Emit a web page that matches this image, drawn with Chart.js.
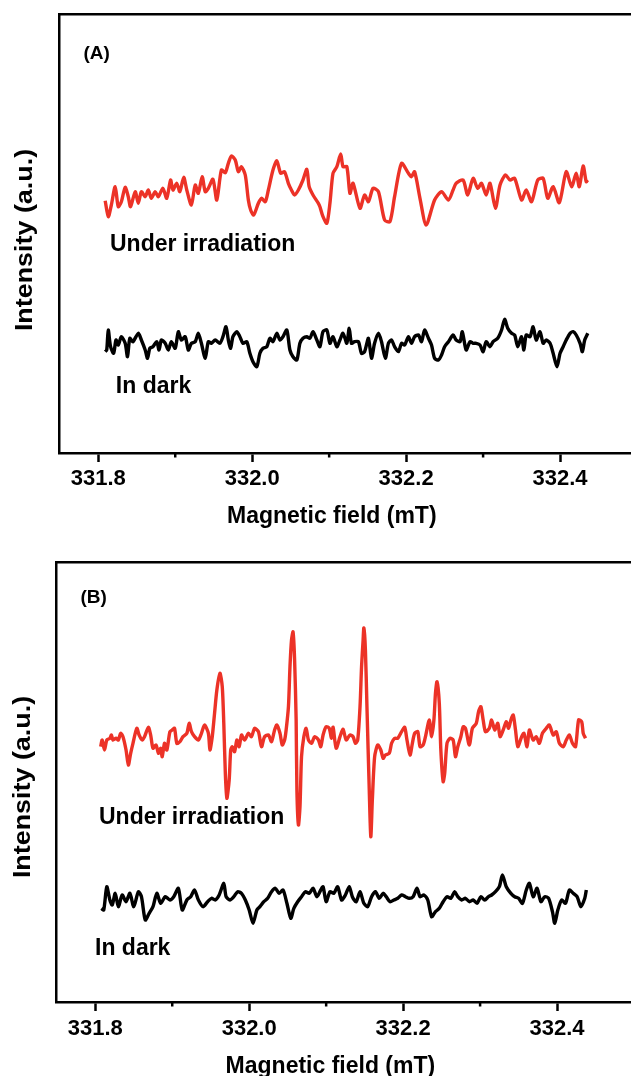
<!DOCTYPE html>
<html><head><meta charset="utf-8">
<script src="https://cdn.jsdelivr.net/npm/chart.js@4.4.1/dist/chart.umd.min.js"></script>
<style>
html,body{margin:0;padding:0;width:631px;height:1076px;overflow:hidden;background:#fff;}
#wrapA{position:absolute;left:0;top:0;width:740px;height:545px;}
#wrapB{position:absolute;left:-3px;top:545px;width:740px;height:531px;}
.lbl{position:absolute;font-family:'Liberation Sans',Arial,sans-serif;font-weight:bold;line-height:1;white-space:nowrap;color:#000;}
.ytitle{position:absolute;width:300px;height:24px;font-size:24px;text-align:center;transform-origin:50% 50%;transform:rotate(-90deg) scaleX(1.12);}
</style></head><body>
<div id="wrapA"><canvas id="cA" width="740" height="545"></canvas></div>
<div id="wrapB"><canvas id="cB" width="740" height="531"></canvas></div>
<div class="lbl" style="left:83.5px;top:43.2px;font-size:19px">(A)</div>
<div class="lbl" style="left:110px;top:232px;font-size:23px">Under irradiation</div>
<div class="lbl" style="left:115.8px;top:374px;font-size:23px">In dark</div>
<div class="lbl" style="left:227px;top:504.2px;font-size:23px">Magnetic field (mT)</div>
<div class="lbl ytitle" style="left:-126px;top:228px;">Intensity (a.u.)</div>
<div class="lbl" style="left:80.5px;top:587.2px;font-size:19px">(B)</div>
<div class="lbl" style="left:99px;top:804.5px;font-size:23px">Under irradiation</div>
<div class="lbl" style="left:95px;top:935.5px;font-size:23px">In dark</div>
<div class="lbl" style="left:225.6px;top:1053.7px;font-size:23px">Magnetic field (mT)</div>
<div class="lbl ytitle" style="left:-128px;top:775px;">Intensity (a.u.)</div>
<script>
// ---- data (field in mT, intensity in a.u.) ----
const xTickValues = [331.8, 332.0, 332.2, 332.4];
const xMinorTicks = [331.9, 332.1, 332.3, 332.5];

const fieldIrrA = [331.809,331.813,331.817,331.822,331.826,331.830,331.835,331.839,331.842,331.848,
331.852,331.856,331.861,331.865,331.869,331.874,331.878,331.884,331.889,331.894,
331.897,331.902,331.906,331.911,331.915,331.921,331.926,331.930,331.935,331.939,
331.943,331.949,331.954,331.960,331.965,331.969,331.973,331.978,331.982,331.986,
331.991,331.995,331.998,332.002,332.008,332.012,332.017,332.021,332.027,332.032,
332.037,332.042,332.047,332.051,332.055,332.060,332.066,332.071,332.074,332.079,
332.086,332.088,332.092,332.097,332.101,332.105,332.110,332.115,332.118,332.123,
332.127,332.131,332.140,332.146,332.151,332.157,332.164,332.172,332.179,332.185,
332.194,332.203,332.207,332.211,332.218,332.226,332.237,332.246,332.255,332.261,
332.265,332.274,332.280,332.287,332.293,332.298,332.304,332.309,332.316,332.322,
332.329,332.335,332.341,332.350,332.356,332.363,332.371,332.378,332.384,332.391,
332.399,332.408,332.415,332.421,332.425,332.430,332.434,332.436];
const irrA = [252.3,236.3,248,266.3,246.3,251.3,265.7,256.3,246.3,261.3,
249.7,261.3,256.3,263,254.7,261.3,256.3,264.7,254.7,273,
263,269.7,261.3,275.7,263,248,268,259.7,276.3,261.3,
264.7,273.7,253,283,280.3,289.7,297,293,281.3,286.3,
278,253,243,238,249.7,254.7,251.3,263,283,292.3,
279.7,281.3,269.7,263,258,263,273,283.7,266.3,258,
249.7,246.3,236.3,229.7,249.7,279.7,286.3,299,286.3,286.3,
259.7,269.7,244.7,258,251.3,264.7,261.3,233,231.3,256.3,
289.7,279.7,276.3,281.3,254.7,228,253,261.3,253,263,
269.7,273,258,274.7,264.7,269.7,258,269.7,244.7,268,
278,273,274.7,253,263,251.3,273,274.7,254.7,266.3,
250.3,281.3,266.3,279.7,266.3,287,271.3,273];

const fieldDarkA = [331.809,331.811,331.813,331.816,331.820,331.823,331.826,331.830,331.835,331.838,
331.841,331.845,331.852,331.856,331.861,331.864,331.867,331.871,331.876,331.879,
331.882,331.887,331.891,331.895,331.900,331.904,331.908,331.913,331.917,331.921,
331.926,331.930,331.934,331.939,331.943,331.947,331.952,331.958,331.962,331.966,
331.969,331.972,331.975,331.980,331.984,331.988,331.993,331.997,332.001,332.006,
332.010,332.014,332.019,332.023,332.027,332.032,332.036,332.040,332.045,332.049,
332.053,332.058,332.062,332.066,332.071,332.075,332.079,332.084,
332.088,332.092,332.097,332.101,332.105,332.110,332.114,332.118,332.123,332.126,
332.129,332.133,332.138,332.142,332.146,332.151,332.155,332.159,332.164,332.168,
332.173,332.177,332.181,332.185,332.190,332.194,332.198,332.203,332.207,332.211,
332.216,332.220,332.224,332.229,332.233,332.237,332.242,332.246,332.250,332.255,
332.261,332.265,332.270,332.273,332.278,332.283,332.287,332.291,332.296,332.300,
332.304,332.309,332.313,332.319,332.324,332.328,332.332,332.337,332.341,332.345,
332.350,332.353,332.356,332.361,332.365,332.369,332.374,332.378,332.382,332.387,
332.391,332.396,332.400,332.404,332.408,332.413,332.417,332.421,332.426,332.429,
332.432,332.436];
const darkA = [101.3,103,123,106.3,99.7,113,108,116.3,109.7,96.3,
114.7,111.3,119.7,113,103,94.7,104.7,106.3,111.3,103,
113,109.7,103,111.3,104.7,121.3,113,116.3,103,109.7,
111.3,119.7,109.7,94.7,111.3,109.7,113,109.7,116.3,126.3,
113,104.7,116.3,121.3,116.3,109.7,111.3,99.7,91.3,86.3,
99.7,104.7,106.3,114.7,111.3,119.7,113,116.3,123,103,
96.3,93,109.7,114.7,116.3,114.7,121.3,113,
106.3,121.3,123,109.7,116.3,106.3,113,119.7,109.7,124.7,
109.7,111.3,111.3,99.7,101.3,114.7,94.7,109.7,119.7,111.3,
94.7,109.7,113,106.3,101.3,109.7,108,116.3,109.7,116.3,
118,111.3,123,114.7,108,94.7,93,98,106.3,111.3,
118,113,111.3,121.3,103,111.3,109.7,109.7,108,101.3,
111.3,106.3,111.3,114.7,123,133.7,124.7,119.7,118,106.3,
116.3,103,118,116.3,126.3,113,121.3,109.7,113,109.7,
99.7,86.3,99.7,106.3,113,119.7,121.3,118,109.7,101.3,
113,119.7];

const fieldIrrB = [331.807,331.809,331.812,331.815,331.819,331.821,331.823,331.827,331.830,331.833,
331.836,331.840,331.843,331.846,331.849,331.854,331.857,331.861,331.864,331.869,
331.872,331.875,331.879,331.882,331.885,331.887,331.890,331.893,331.897,331.900,
331.903,331.906,331.910,331.914,331.919,331.922,331.925,331.929,331.934,331.938,
331.942,331.947,331.949,331.952,331.955,331.958,331.962,331.965,331.967,331.969,
331.971,331.974,331.976,331.978,331.981,331.984,331.987,331.990,331.994,331.999,
332.003,332.007,332.012,332.016,332.020,332.025,332.029,332.033,332.036,332.040,
332.043,332.046,332.048,332.051,332.053,332.055,332.057,332.059,332.061,332.062,
332.064,332.066,332.068,332.071,332.074,332.077,332.081,332.085,332.090,332.093,
332.096,332.100,332.104,332.107,332.109,332.113,332.118,332.122,332.126,332.131,
332.135,332.138,332.141,332.144,332.146,332.148,332.149,332.151,332.153,332.156,
332.158,332.160,332.163,332.167,332.171,332.174,332.177,332.182,332.185,332.189,
332.193,332.198,332.202,332.205,332.209,332.212,332.215,332.219,332.222,332.226,
332.229,332.234,332.237,332.240,332.242,332.244,332.247,332.249,332.252,332.254,
332.257,332.261,332.265,332.268,332.271,332.275,332.278,332.281,332.286,332.290,
332.295,332.298,332.301,332.304,332.307,332.312,332.315,332.319,332.323,332.326,
332.330,332.334,332.337,332.340,332.343,332.346,332.349,332.354,332.357,332.361,
332.364,332.369,332.373,332.377,332.381,332.386,332.390,332.395,332.399,332.403,
332.408,332.412,332.416,332.420,332.424,332.428,332.432,332.434,332.437];
const irrB = [255.3,262,252,262,263.7,267,262,263.7,262,268.7,
265.3,252,237,248.7,258.7,273.7,267,262,265.3,274.7,
267,253.7,257,248.7,253.7,245.3,258.7,252,270.3,272,
273.7,258.7,260.3,265.3,268.7,278.7,270.3,265.3,262,268.7,
277,268.7,252,265.3,288.7,312,328.7,315.3,278.7,228.7,
203.7,222,252,255.3,250.3,262,255.3,267,262,268.7,
265.3,273.7,270.3,255.3,265.3,267,260.3,272,277,268.7,
257,262,272,295.3,335.3,362,370,342,282,212,
177,195.3,245.3,265.3,273.7,262,258.7,265.3,262,255.3,
267,275.3,273.7,263.7,274.7,253.7,265.3,272.7,262,267,
265.3,258.7,262,295.3,335.3,362,374,352,295.3,212,
165.3,202,245.3,257,252,243.7,247,248.7,258.7,263.7,
263.7,270.3,274.7,262,247,258.7,268.7,270.3,255.3,257,
265.3,282,265.3,282,308.7,320.3,298.7,252,220.3,228.7,
258.7,263.7,262,245.3,255.3,265.3,275.3,273.7,257,273.7,
278.7,290.3,295.3,282,270.3,273.7,282,272,278.7,265.3,
272,280.3,273.7,282,287,272,255.3,265.3,268.7,255.3,
272,262,265.3,258.7,268.7,273.7,277,267,270.3,258.7,
255.3,262,267,258.7,255.3,282,280.3,268.7,263.7];

const fieldDarkB = [331.808,331.811,331.815,331.819,331.822,331.826,331.830,331.835,331.840,331.845,
331.850,331.856,331.860,331.865,331.870,331.875,331.880,331.885,331.891,331.897,
331.902,331.908,331.913,331.919,331.924,331.929,331.934,331.940,331.946,331.951,
331.956,331.961,331.967,331.970,331.975,331.980,331.985,331.990,331.995,332.000,
332.005,332.010,332.014,332.019,332.024,332.029,332.034,332.039,332.044,332.049,
332.054,332.058,332.063,332.068,332.073,332.078,332.083,332.088,332.093,332.096,
332.100,332.105,332.110,332.115,332.120,332.125,332.130,332.134,332.139,332.144,
332.149,332.154,332.159,332.164,332.169,332.174,332.178,332.183,332.188,332.193,
332.198,332.203,332.208,332.213,332.218,332.222,332.227,332.232,332.237,332.242,
332.247,332.252,332.257,332.262,332.267,332.271,332.276,332.281,332.286,332.291,
332.296,332.301,332.306,332.311,332.315,332.320,332.325,332.329,332.334,332.340,
332.345,332.350,332.355,332.360,332.364,332.369,332.374,332.379,332.384,332.389,
332.394,332.397,332.401,332.406,332.411,332.416,332.421,332.426,332.431,332.436,
332.438];
const darkB = [93.7,92,115.3,102,97,108.7,95.3,107,100.3,108.7,
95.3,110.3,105.3,82,88.7,95.3,108.7,98.7,105.3,102,
105.3,113.7,92,102,105.3,112,102,95.3,100.3,103.7,
102,107,118.7,105.3,102,105.3,110.3,108.7,102,92,
78.7,92,95.3,100.3,103.7,110.3,113.7,108.7,112,98.7,
83.7,93.7,100.3,105.3,110.3,108.7,113.7,105.3,112,115.3,
100.3,110.3,108.7,115.3,102,107,115.3,105.3,100.3,110.3,
98.7,95.3,105.3,110.3,103.7,108.7,105.3,100.3,102,103.7,
107,105.3,103.7,105.3,113.7,105.3,107,102,85.3,90.3,
93.7,100.3,105.3,103.7,110.3,105.3,102,103.7,100.3,102,
98.7,105.3,102,105.3,107,110.3,115.3,127,115.3,108.7,
105.3,103.7,98.7,112,118.7,105.3,113.7,100.3,105.3,103.7,
90.3,78.7,92,102,98.7,112,108.7,105.3,95.3,103.7,
112];

// ---- drawing ----
const FONT = "'Liberation Sans', Arial, sans-serif";
const RED = '#ec3227';
const X_MIN = 331.749, X_MAX = 332.6;

const minorTickPlugin = {
  id: 'minorTicks',
  afterDraw(chart) {
    const xs = chart.scales.x, ctx = chart.ctx, y0 = chart.chartArea.bottom;
    ctx.save();
    ctx.strokeStyle = '#000';
    ctx.lineWidth = 2.5;
    xMinorTicks.forEach(v => {
      const px = xs.getPixelForValue(v);
      ctx.beginPath(); ctx.moveTo(px, y0); ctx.lineTo(px, y0 + 4.5); ctx.stroke();
    });
    ctx.restore();
  }
};

function pts(xs, ys) { return xs.map((x, i) => ({x: x, y: ys[i]})); }

function makeChart(id, irrX, irrY, darkX, darkY, yMax, padTop, padBottom, tickPad) {
  const border = {display: true, width: 2.5, color: '#000'};
  return new Chart(document.getElementById(id), {
    type: 'line',
    data: {
      datasets: [
        {label: 'Under irradiation', data: pts(irrX, irrY), borderColor: RED, borderWidth: 3.4,
         pointRadius: 0, tension: 0.25, fill: false},
        {label: 'In dark', data: pts(darkX, darkY), borderColor: '#000', borderWidth: 3.4,
         pointRadius: 0, tension: 0.25, fill: false}
      ]
    },
    options: {
      responsive: false, animation: false, devicePixelRatio: 1,
      layout: {padding: {left: 59, right: 26, top: padTop, bottom: padBottom}},
      plugins: {legend: {display: false}, tooltip: {enabled: false}},
      scales: {
        x: {
          type: 'linear', position: 'bottom', min: X_MIN, max: X_MAX,
          afterBuildTicks: ax => { ax.ticks = xTickValues.map(v => ({value: v})); },
          ticks: {callback: v => Number(v).toFixed(1), color: '#000', padding: tickPad,
                  maxRotation: 0, autoSkip: false, font: {family: FONT, size: 22, weight: 'bold'}},
          grid: {display: true, drawOnChartArea: false, drawTicks: true, tickLength: 9,
                 tickWidth: 2.5, tickColor: '#000'},
          border: border
        },
        x2: {
          type: 'linear', position: 'top', min: X_MIN, max: X_MAX,
          ticks: {display: false}, grid: {display: false, drawTicks: false}, border: border
        },
        y: {
          min: 0, max: yMax,
          ticks: {display: false}, grid: {display: false, drawTicks: false}, border: border,
          title: {display: false}
        }
      }
    },
    plugins: [minorTickPlugin]
  });
}

makeChart('cA', fieldIrrA, irrA, fieldDarkA, darkA, 439, 14, 48.8, 3.9);
makeChart('cB', fieldIrrB, irrB, fieldDarkB, darkB, 440, 17, 28.8, 4.9);
</script>
</body></html>
